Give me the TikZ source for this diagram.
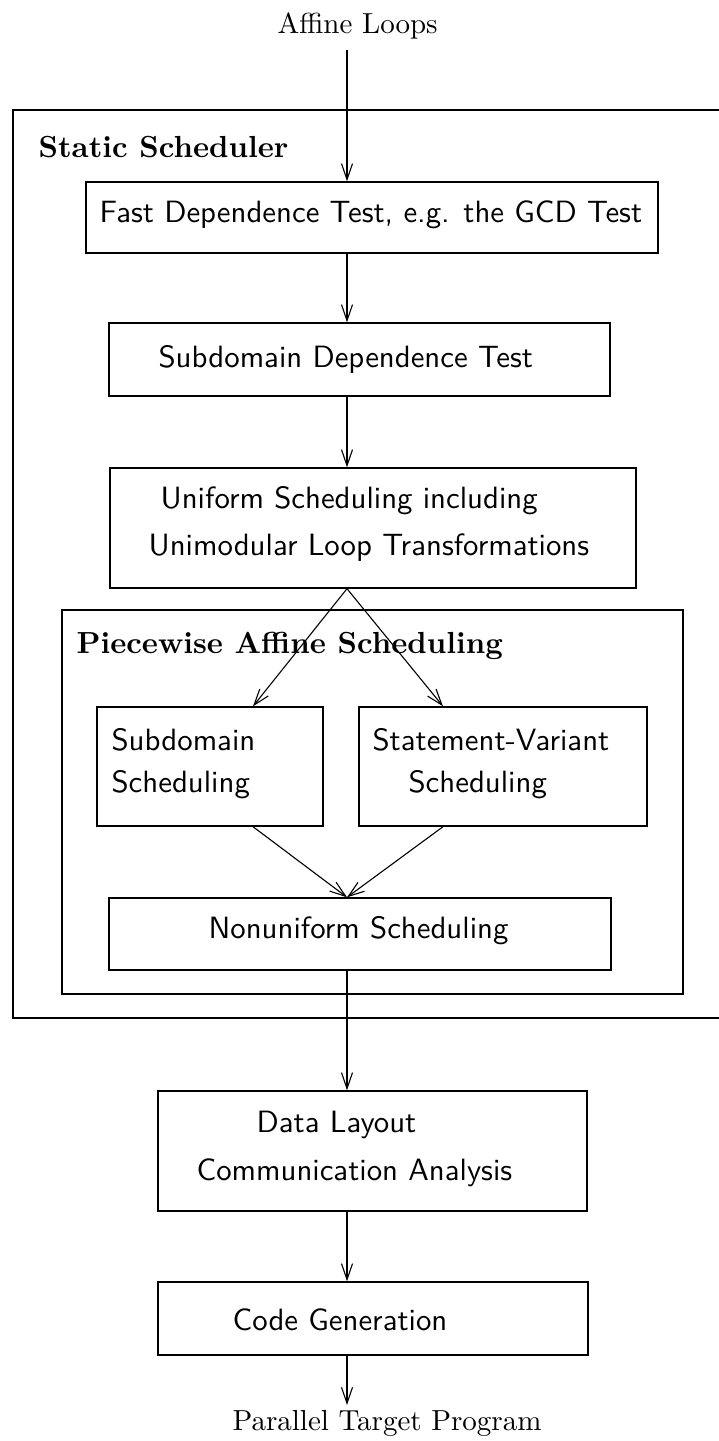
\documentclass[tikz,border=0pt]{standalone}
\usetikzlibrary{arrows.meta}
\begin{document}
\begin{tikzpicture}[x=1pt,y=-1pt,
  box/.style={draw, line width=1.4pt, inner sep=0pt},
  arr/.style={line width=1.1pt, -{Straight Barb[length=16pt,width=11pt,line width=1.1pt]}},
  sans/.style={font=\sffamily, scale=3.08, inner sep=0pt, anchor=base west},
  serif/.style={font=\rmfamily, scale=2.9, inner sep=0pt, anchor=base west},
  bold/.style={font=\bfseries, scale=3.05, inner sep=0pt, anchor=base west}]
\useasboundingbox (0,0) rectangle (719,1441);
% outer frame (Static Scheduler), open to the right edge
\draw[line width=1.4pt] (719,110) -- (13,110) -- (13,1018) -- (719,1018);
% boxes
\node[box, minimum width=572pt, minimum height=71pt] (b1) at (372,217.5) {};
\node[box, minimum width=501pt, minimum height=73pt] (b2) at (359.5,359.5) {};
\node[box, minimum width=526pt, minimum height=120pt] (b3) at (373,528) {};
\node[box, minimum width=621pt, minimum height=384pt] (pw) at (372.5,802) {};
\node[box, minimum width=226pt, minimum height=119pt] (sd) at (210,766.5) {};
\node[box, minimum width=288pt, minimum height=119pt] (sv) at (503,766.5) {};
\node[box, minimum width=502pt, minimum height=72pt] (nu) at (360,934) {};
\node[box, minimum width=429pt, minimum height=120pt] (dl) at (372.5,1151) {};
\node[box, minimum width=430pt, minimum height=73pt] (cg) at (373,1318.5) {};
% texts
\node[serif] (aff) at (277,33) {Affine Loops};
\node[bold] (ss) at (38,157) {Static Scheduler};
\node[sans] (t1) at (99,222) {Fast Dependence Test, e.g. the GCD Test};
\node[sans] (t2) at (158,367) {Subdomain Dependence Test};
\node[sans] (t3a) at (160,508) {Uniform Scheduling including};
\node[sans] (t3b) at (148,555) {Unimodular Loop Transformations};
\node[bold] (pwt) at (76,653) {Piecewise Affine Scheduling};
\node[sans] (t4a) at (111,750) {Subdomain};
\node[sans] (t4b) at (111,792) {Scheduling};
\node[sans] (t5a) at (372,750) {Statement-Variant};
\node[sans] (t5b) at (408,792) {Scheduling};
\node[sans] (t6) at (208,938) {Nonuniform Scheduling};
\node[sans] (t7a) at (256,1132) {Data Layout};
\node[sans] (t7b) at (196,1180) {Communication Analysis};
\node[sans] (t8) at (232,1330) {Code Generation};
\node[serif] (ptp) at (232,1430) {Parallel Target Program};
% connectors
\coordinate (a0) at (347,50);
\coordinate (lx) at (253,0);
\coordinate (rx) at (443,0);
\coordinate (aend) at (347,1405);
\draw[arr] (a0) -- (b1.north -| a0);
\draw[arr] (b1.south -| a0) -- (b2.north -| a0);
\draw[arr] (b2.south -| a0) -- (b3.north -| a0);
\draw[arr] (b3.south -| a0) -- (sd.north -| lx);
\draw[arr] (b3.south -| a0) -- (sv.north -| rx);
\draw[arr] (sd.south -| lx) -- (nu.north -| a0);
\draw[arr] (sv.south -| rx) -- (nu.north -| a0);
\draw[arr] (nu.south -| a0) -- (dl.north -| a0);
\draw[arr] (dl.south -| a0) -- (cg.north -| a0);
\draw[arr] (cg.south -| a0) -- (aend);
\end{tikzpicture}
\end{document}
